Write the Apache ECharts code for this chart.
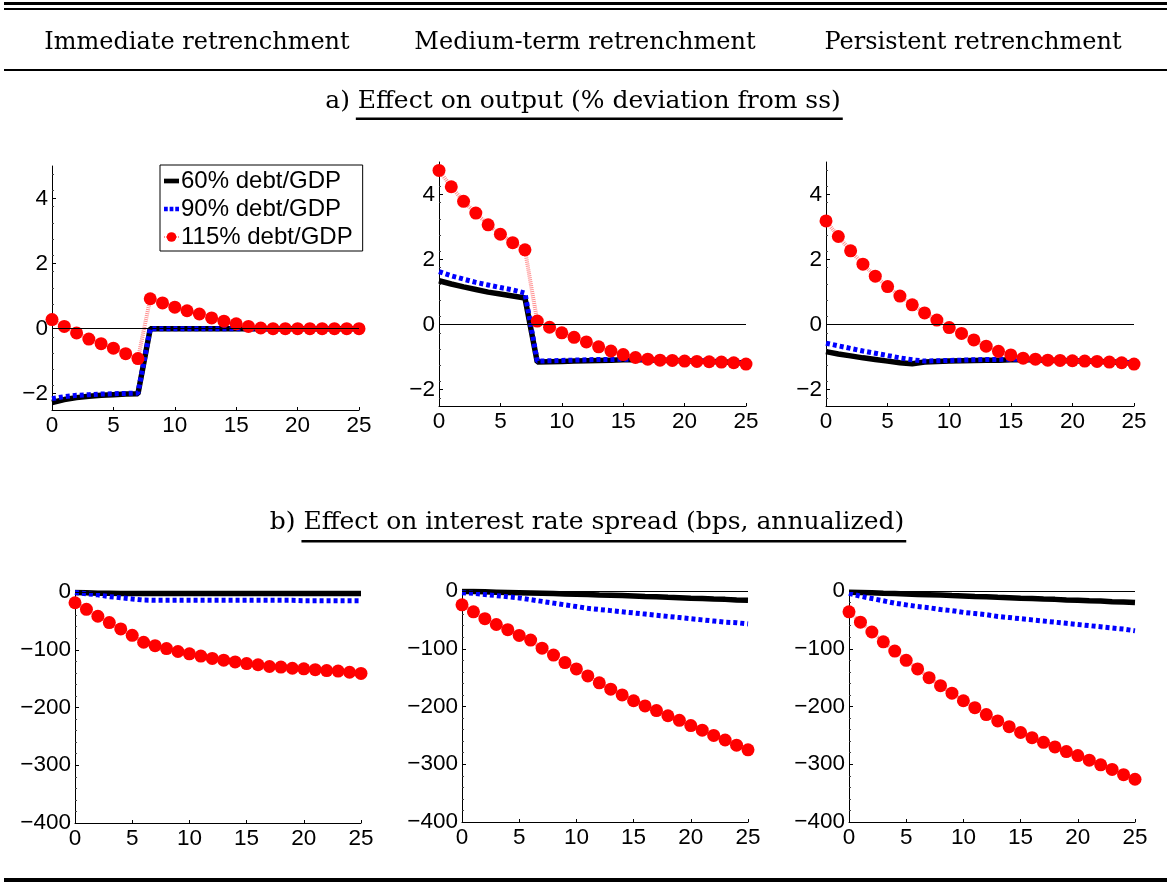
<!DOCTYPE html>
<html><head><meta charset="utf-8">
<script src="https://cdn.jsdelivr.net/npm/echarts@6/dist/echarts.min.js"></script>
<style>html,body{margin:0;padding:0;background:#fff}#c{width:1167px;height:882px}</style>
</head><body><div id="c"></div><script>
// ---- data ----
const periods = [0,1,2,3,4,5,6,7,8,9,10,11,12,13,14,15,16,17,18,19,20,21,22,23,24,25];
const seriesNames = ['60% debt/GDP', '90% debt/GDP', '115% debt/GDP'];
const columnTitles = ['Immediate retrenchment', 'Medium-term retrenchment', 'Persistent retrenchment'];
const panelATitle = ['a) ', 'Effect on output (% deviation from ss)'];
const panelBTitle = ['b) ', 'Effect on interest rate spread (bps, annualized)'];
const outputTicks = [-2, 0, 2, 4];
const spreadTicks = [-400, -300, -200, -100, 0];

// Output (% deviation from ss)
const outImm60  = [-2.27,-2.18,-2.12,-2.08,-2.05,-2.03,-2.01,-2.0,0,0,0,0,0,0,0,0,0,0,0,0,0,0,0,0,0,0];
const outImm90  = [-2.15,-2.09,-2.05,-2.03,-2.01,-2.0,-1.99,-1.98,0,0,0,0,0,0,0,0,0,0,0,0,0,0,0,0,0,0];
const outImm115 = [0.28,0.07,-0.13,-0.32,-0.46,-0.6,-0.77,-0.92,0.92,0.79,0.66,0.55,0.45,0.33,0.23,0.15,0.07,0.02,0,0,0,0,0,0,0,0];
const outMed60  = [1.35,1.25,1.16,1.08,1.0,0.94,0.88,0.82,-1.15,-1.14,-1.13,-1.12,-1.11,-1.1,-1.09,-1.08,-1.08,-1.08,-1.09,-1.1,-1.11,-1.12,-1.13,-1.14,-1.16,-1.18];
const outMed90  = [1.63,1.5,1.4,1.3,1.22,1.14,1.07,0.97,-1.12,-1.11,-1.1,-1.09,-1.08,-1.07,-1.07,-1.06,-1.06,-1.07,-1.08,-1.09,-1.1,-1.11,-1.12,-1.13,-1.15,-1.17];
const outMed115 = [4.74,4.24,3.79,3.43,3.07,2.78,2.52,2.30,0.11,-0.08,-0.25,-0.39,-0.53,-0.68,-0.81,-0.92,-1.01,-1.06,-1.09,-1.1,-1.12,-1.13,-1.14,-1.15,-1.17,-1.21];
const outPer60  = [-0.83,-0.9,-0.96,-1.02,-1.07,-1.12,-1.17,-1.2,-1.15,-1.13,-1.12,-1.11,-1.1,-1.09,-1.09,-1.08,-1.08,-1.08,-1.09,-1.1,-1.11,-1.12,-1.13,-1.14,-1.16,-1.18];
const outPer90  = [-0.57,-0.65,-0.73,-0.81,-0.88,-0.95,-1.02,-1.08,-1.12,-1.11,-1.1,-1.09,-1.08,-1.07,-1.07,-1.06,-1.06,-1.07,-1.08,-1.09,-1.1,-1.11,-1.12,-1.13,-1.15,-1.17];
const outPer115 = [3.19,2.71,2.27,1.86,1.49,1.17,0.88,0.61,0.36,0.14,-0.09,-0.27,-0.47,-0.66,-0.82,-0.93,-1.03,-1.06,-1.09,-1.1,-1.11,-1.12,-1.13,-1.15,-1.17,-1.21];

// Interest rate spread (bps, annualized)
const sprImm60  = [-1,-1.5,-2,-2.2,-2.4,-2.5,-2.5,-2.5,-2.5,-2.5,-2.5,-2.5,-2.5,-2.5,-2.5,-2.5,-2.5,-2.5,-2.5,-2.5,-2.5,-2.5,-2.5,-2.5,-2.5,-2.5];
const sprImm90  = [-1,-3,-5,-8,-10,-12,-14,-14.5,-14.5,-14.5,-14.5,-14.5,-14.5,-14.5,-14.5,-14.5,-14.5,-14.5,-14.5,-14.5,-15,-15,-15,-15,-15,-15];
const sprImm115 = [-18.6,-30,-42,-53,-64,-75,-87,-93,-98,-103,-107,-111,-115,-118,-121,-124,-126,-129,-130,-132,-133,-134.5,-136,-137,-139,-141];
const sprMed60  = [-1,-1,-1.5,-2,-2.5,-3,-3.5,-4,-4.5,-5,-5.5,-6,-7,-7.5,-8,-8.5,-9.5,-10,-11,-11.5,-12.5,-13,-14,-14.5,-15.5,-16];
const sprMed90  = [-3,-4,-6,-8,-10,-12,-15,-18,-21,-24,-27,-30,-32,-34,-36,-38,-40,-42,-44,-46,-48,-50,-52,-54,-55,-57];
const sprMed115 = [-24,-36,-48,-58,-67,-77,-85,-99,-111,-124,-135,-147,-159,-170,-180,-190,-199,-207,-216,-224,-233,-241,-250,-258,-267,-275];
const sprPer60  = [-2,-2.5,-3,-4,-4.5,-5,-6,-6.5,-7,-8,-8.5,-9.5,-10,-11,-11.5,-12.5,-13,-14,-14.5,-15.5,-16,-17,-17.5,-18.5,-19,-20];
const sprPer90  = [-4,-9,-13,-17,-21,-24,-27,-29,-32,-34,-37,-39,-41,-44,-46,-48,-50,-52,-54,-56,-58,-60,-62,-64,-66,-69];
const sprPer115 = [-36,-54,-71,-88,-104,-120,-135,-150,-164,-177,-190,-202,-214,-225,-235,-245,-254,-262,-270,-278,-285,-293,-301,-309,-318,-326];

// ---- layout ----
const panels = [
  {grid:{left:52, top:166, width:307, height:244}, kind:'out', data:[outImm60,outImm90,outImm115]},
  {grid:{left:439, top:162, width:307, height:244}, kind:'out', data:[outMed60,outMed90,outMed115]},
  {grid:{left:826, top:162, width:308, height:244}, kind:'out', data:[outPer60,outPer90,outPer115]},
  {grid:{left:75, top:592, width:286, height:231}, kind:'spr', data:[sprImm60,sprImm90,sprImm115]},
  {grid:{left:462, top:591, width:286, height:231}, kind:'spr', data:[sprMed60,sprMed90,sprMed115]},
  {grid:{left:849, top:591, width:286, height:231}, kind:'spr', data:[sprPer60,sprPer90,sprPer115]}
];

const SANS = '"Liberation Sans", Arial, sans-serif';
const SERIF = '"DejaVu Serif", serif';
const fmt = v => (v < 0 ? '\u2212' + Math.abs(v) : String(v));

const grids = [], xAxes = [], yAxes = [], series = [];
panels.forEach((p, i) => {
  grids.push(Object.assign({containLabel:false}, p.grid));
  xAxes.push({
    type:'value', gridIndex:i, min:0, max:25, interval:5,
    axisLine:{show:true, onZero:false, lineStyle:{color:'#000', width:1}},
    axisTick:{show:true, inside:true, length:3, lineStyle:{color:'#000'}},
    axisLabel:{fontSize:22.5, fontFamily:SANS, color:'#000', margin:4, formatter:fmt},
    splitLine:{show:false}
  });
  const isOut = p.kind === 'out';
  yAxes.push({
    type:'value', gridIndex:i,
    min: isOut ? -2.5 : -400, max: isOut ? 5 : 0, interval: isOut ? 0.5 : 100,
    axisLine:{show:true, onZero:false, lineStyle:{color:'#000', width:1}},
    axisTick:{show:true, inside:true, length:4, lineStyle:{color:'#000'},
              customValues: isOut ? outputTicks : spreadTicks},
    minorTick:{show:true, splitNumber: isOut ? 2 : 5, length:2, lineStyle:{color:'#444'}},
    axisLabel:{fontSize:22.5, fontFamily:SANS, color:'#000', margin:4, formatter:fmt,
               customValues: isOut ? outputTicks : spreadTicks},
    splitLine:{show:false}
  });
  // 60%: black solid thick
  series.push({
    name:seriesNames[0], type:'line', xAxisIndex:i, yAxisIndex:i,
    data: periods.map((x, k) => [x, p.data[0][k]]),
    symbol:'none', lineStyle:{color:'#000', width:5.5}, itemStyle:{color:'#000'}, z:2,
    markLine:{silent:true, symbol:'none', label:{show:false},
              lineStyle:{color:'#000', width:1, type:'solid'}, data:[{yAxis:0}]}
  });
  // 90%: blue dotted thick
  series.push({
    name:seriesNames[1], type:'line', xAxisIndex:i, yAxisIndex:i,
    data: periods.map((x, k) => [x, p.data[1][k]]),
    symbol:'none', lineStyle:{color:'#0000ff', width:5, type:[4,3]}, itemStyle:{color:'#0000ff'}, z:3
  });
  // 115%: red circles with light dotted line
  series.push({
    name:seriesNames[2], type:'line', xAxisIndex:i, yAxisIndex:i,
    data: periods.map((x, k) => [x, p.data[2][k]]),
    symbol:'circle', symbolSize:13, showSymbol:true,
    itemStyle:{color:'#ff0000'},
    lineStyle:{color:'#ff9090', width:4, type:[1,1]}, z:4
  });
});

// ---- text / rules ----
const cv = document.createElement('canvas').getContext('2d');
function underlinedTitle(parts, cx, midY, lineY, size) {
  cv.font = size + 'px "DejaVu Serif"';
  const w0 = cv.measureText(parts[0]).width;
  const w1 = cv.measureText(parts[1]).width;
  const x0 = cx - (w0 + w1) / 2;
  return [
    {type:'text', style:{text:parts[0], x:x0, y:midY, fontSize:size, fontFamily:SERIF, fill:'#000', textAlign:'left', textVerticalAlign:'middle'}},
    {type:'text', style:{text:parts[1], x:x0 + w0, y:midY, fontSize:size, fontFamily:SERIF, fill:'#000', textAlign:'left', textVerticalAlign:'middle'}},
    {type:'rect', shape:{x:x0 + w0 - 2, y:lineY, width:w1 + 4, height:2.5}, style:{fill:'#000'}}
  ];
}
const colCenters = [197, 585, 973];
const graphics = [
  {type:'rect', shape:{x:4, y:2, width:1163, height:3}, style:{fill:'#000'}},
  {type:'rect', shape:{x:4, y:8, width:1163, height:2}, style:{fill:'#000'}},
  {type:'rect', shape:{x:4, y:69, width:1163, height:2}, style:{fill:'#000'}},
  {type:'rect', shape:{x:4, y:878, width:1163, height:4}, style:{fill:'#000'}}
];
columnTitles.forEach((t, i) => graphics.push({type:'text', style:{text:t, x:colCenters[i], y:43, fontSize:24, fontFamily:SERIF, fill:'#000', textAlign:'center', textVerticalAlign:'middle'}}));
graphics.push(...underlinedTitle(panelATitle, 583, 101, 117.5, 25));
graphics.push(...underlinedTitle(panelBTitle, 587, 522, 540, 25));

const chart = echarts.init(document.getElementById('c'), null, {renderer:'canvas'});
chart.setOption({
  animation:false,
  backgroundColor:'#fff',
  grid:grids, xAxis:xAxes, yAxis:yAxes, series:series,
  legend:{
    show:true, orient:'vertical', left:160, top:165,
    data:[
      {name:seriesNames[0], icon:'path://M0,0L16,0L16,5L0,5Z'},
      {name:seriesNames[1], icon:'path://M0,0h4v5h-4zM6,0h4v5h-4zM12,0h4v5h-4z'},
      {name:seriesNames[2]}
    ],
    backgroundColor:'#fff', borderColor:'#000', borderWidth:1, borderRadius:0,
    padding:[4,10,2,3], itemGap:4, itemWidth:15, itemHeight:12,
    textStyle:{fontSize:24, fontFamily:SANS, color:'#000', lineHeight:24, padding:[0,0,0,-3]},
    selectedMode:false
  },
  graphic:graphics
});
</script></body></html>
